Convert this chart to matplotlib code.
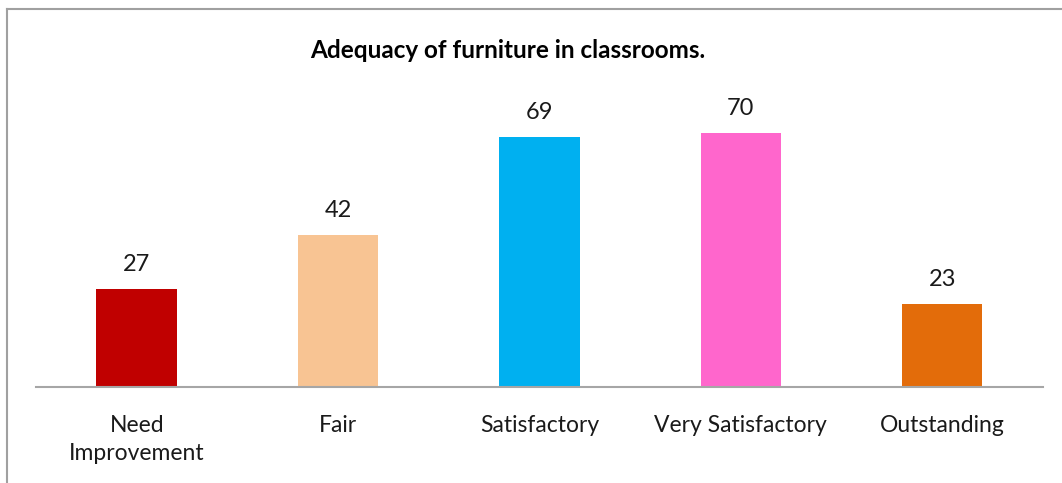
import matplotlib.pyplot as plt
from matplotlib.lines import Line2D

# datos
categorias = ["Need\nImprovement", "Fair", "Satisfactory", "Very Satisfactory", "Outstanding"]
valores = [27, 42, 69, 70, 23]
colores = ["#C00000", "#F8C493", "#00B0F0", "#FF66CC", "#E36C0A"]

plt.rcParams["font.family"] = ["Lato", "DejaVu Sans"]

fig = plt.figure(figsize=(10.62, 4.83), dpi=100)
ax = fig.add_axes([0.0339, 0.1988, 0.9481, 0.601])

x = range(len(categorias))
barras = ax.bar(x, valores, width=0.4, color=colores)

for b, v in zip(barras, valores):
    ax.annotate(str(v), (b.get_x() + b.get_width() / 2, v),
                xytext=(0, 10), textcoords="offset points",
                ha="center", va="bottom", fontsize=17, color="#1a1a1a")

ax.set_xlim(-0.5, 4.5)
ax.set_ylim(0, 80)
ax.set_xticks(list(x))
ax.set_xticklabels(categorias, fontsize=16.5, color="#1a1a1a", linespacing=1.45)
ax.tick_params(axis="x", length=0, pad=20)
ax.set_yticks([])
for lado in ["top", "right", "left"]:
    ax.spines[lado].set_visible(False)
ax.spines["bottom"].set_color("#A6A6A6")
ax.spines["bottom"].set_linewidth(1.5)

fig.text(0.478, 0.896, "Adequacy of furniture in classrooms.",
         ha="center", va="center", fontsize=17.5, fontweight="bold", color="black")

# marco del grafico
fig.add_artist(Line2D([0.0066, 1.0], [0.981, 0.981], color="#A0A0A0", lw=1.5))
fig.add_artist(Line2D([0.0066, 0.0066], [0.0, 0.981], color="#A0A0A0", lw=1.5))

fig.savefig("out.png", dpi=100)
